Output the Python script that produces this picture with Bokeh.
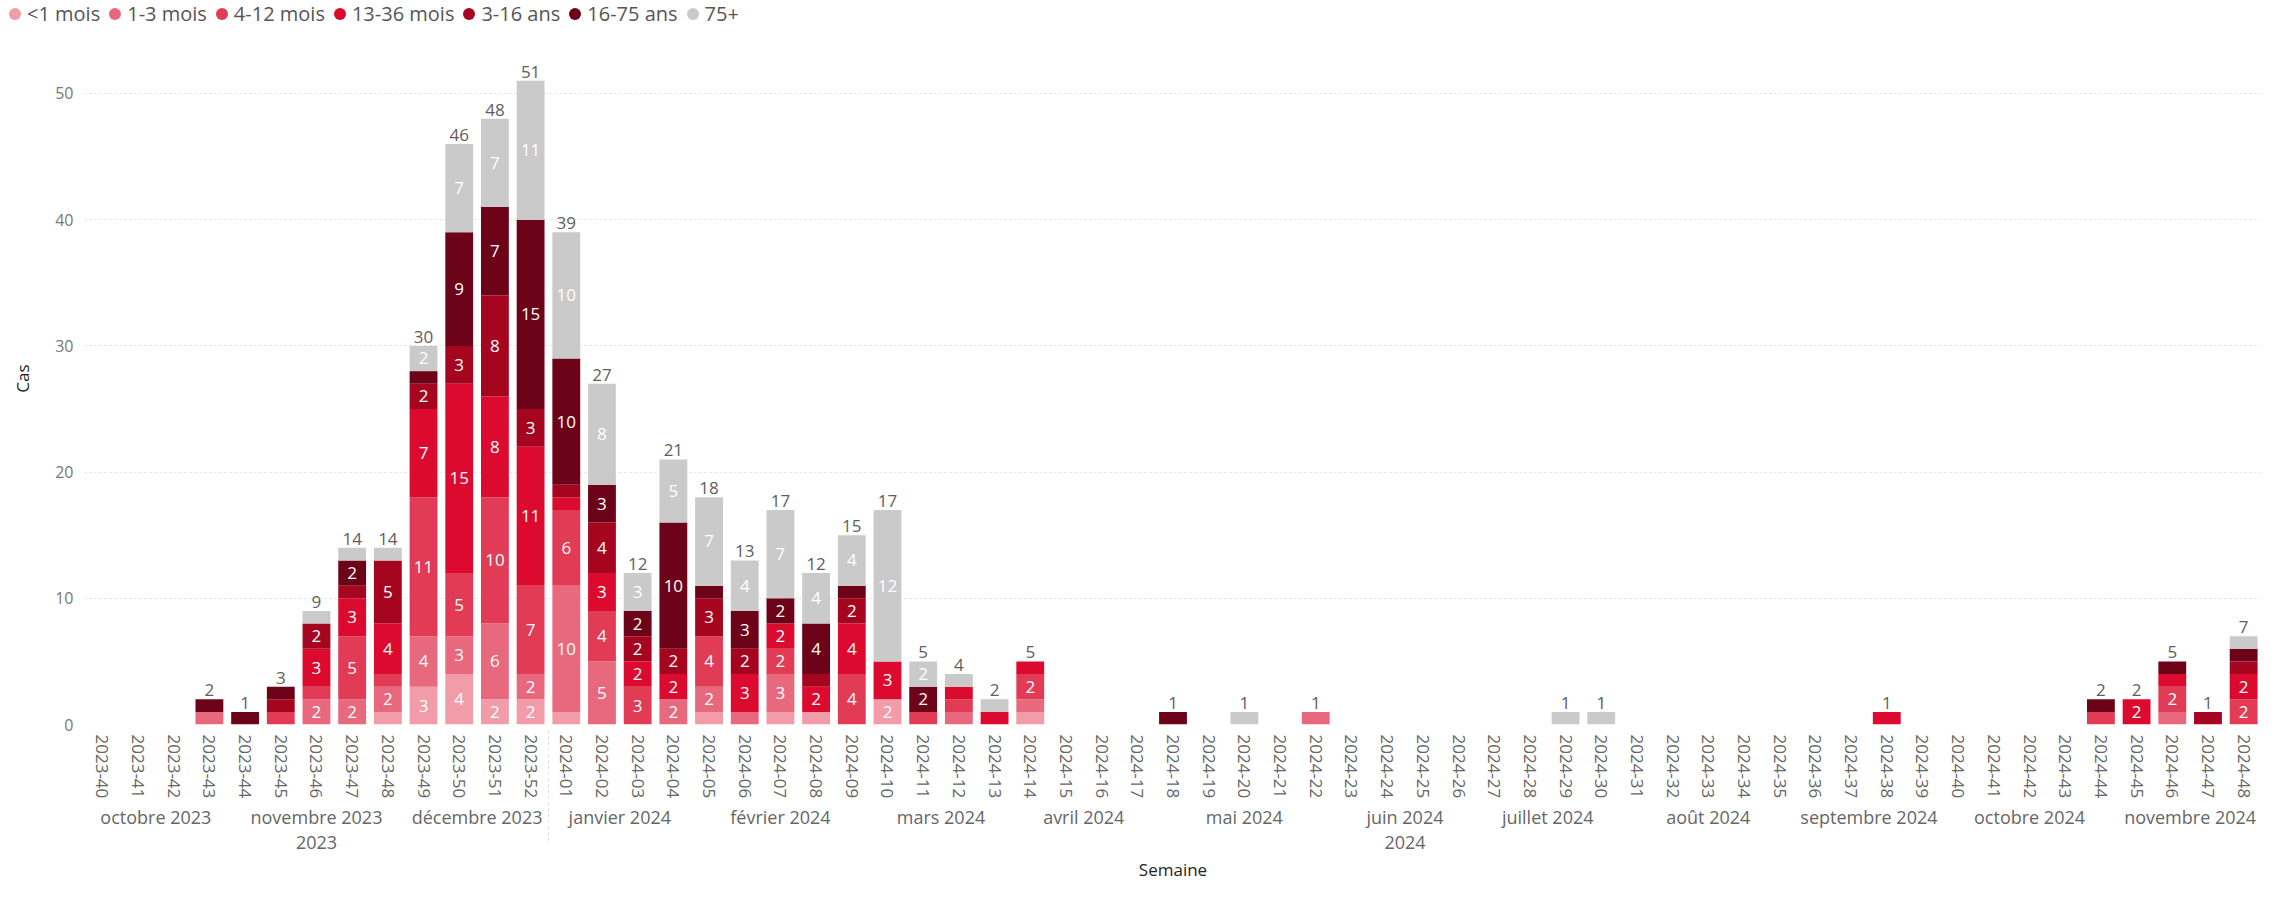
from bokeh.plotting import figure
from bokeh.layouts import column
from bokeh.models import FactorRange, Range1d, ColumnDataSource, FixedTicker, Div
from bokeh.core.properties import value
from bokeh.embed import file_html
from bokeh.resources import INLINE
import html as _html

weeks = [
    "2023-40", "2023-41", "2023-42", "2023-43", "2023-44", "2023-45", "2023-46",
    "2023-47", "2023-48", "2023-49", "2023-50", "2023-51", "2023-52",
    "2024-01", "2024-02", "2024-03", "2024-04", "2024-05", "2024-06", "2024-07",
    "2024-08", "2024-09", "2024-10", "2024-11", "2024-12", "2024-13", "2024-14",
    "2024-15", "2024-16", "2024-17", "2024-18", "2024-19", "2024-20", "2024-21",
    "2024-22", "2024-23", "2024-24", "2024-25", "2024-26", "2024-27", "2024-28",
    "2024-29", "2024-30", "2024-31", "2024-32", "2024-33", "2024-34", "2024-35",
    "2024-36", "2024-37", "2024-38", "2024-39", "2024-40", "2024-41", "2024-42",
    "2024-43", "2024-44", "2024-45", "2024-46", "2024-47", "2024-48",
]
months = ["octobre 2023", "novembre 2023", "décembre 2023", "janvier 2024", "février 2024",
          "mars 2024", "avril 2024", "mai 2024", "juin 2024", "juillet 2024", "août 2024",
          "septembre 2024", "octobre 2024", "novembre 2024"]
weeks_per_month = [4, 5, 4, 4, 5, 4, 4, 5, 4, 4, 5, 4, 5, 4]

names = ["<1 mois", "1-3 mois", "4-12 mois", "13-36 mois", "3-16 ans", "16-75 ans", "75+"]
colors = ["#F19CA8", "#E8697E", "#E23B55", "#DC0A2E", "#A6051F", "#6D0318", "#CACACA"]

# 2023-40..2023-52 | 2024-01..12 | 13..24 | 25..36 | 37..48
lt1 = [0, 0, 0, 0, 0, 0, 0, 0, 1, 3, 4, 2, 2,
       1, 0, 0, 0, 1, 0, 1, 1, 0, 2, 0, 0,
       0, 1, 0, 0, 0, 0, 0, 0, 0, 0, 0, 0,
       0, 0, 0, 0, 0, 0, 0, 0, 0, 0, 0, 0,
       0, 0, 0, 0, 0, 0, 0, 0, 0, 0, 0, 0]
m1_3 = [0, 0, 0, 1, 0, 0, 2, 2, 2, 4, 3, 6, 2,
        10, 5, 0, 2, 2, 1, 3, 0, 0, 0, 0, 1,
        0, 1, 0, 0, 0, 0, 0, 0, 0, 1, 0, 0,
        0, 0, 0, 0, 0, 0, 0, 0, 0, 0, 0, 0,
        0, 0, 0, 0, 0, 0, 0, 0, 0, 1, 0, 0]
m4_12 = [0, 0, 0, 0, 0, 1, 1, 5, 1, 11, 5, 10, 7,
         6, 4, 3, 0, 4, 0, 2, 0, 4, 0, 1, 1,
         0, 2, 0, 0, 0, 0, 0, 0, 0, 0, 0, 0,
         0, 0, 0, 0, 0, 0, 0, 0, 0, 0, 0, 0,
         0, 0, 0, 0, 0, 0, 0, 1, 0, 2, 0, 2]
m13_36 = [0, 0, 0, 0, 0, 0, 3, 3, 4, 7, 15, 8, 11,
          1, 3, 2, 2, 0, 3, 2, 2, 4, 3, 0, 1,
          1, 1, 0, 0, 0, 0, 0, 0, 0, 0, 0, 0,
          0, 0, 0, 0, 0, 0, 0, 0, 0, 0, 0, 0,
          0, 1, 0, 0, 0, 0, 0, 0, 2, 1, 0, 2]
a3_16 = [0, 0, 0, 0, 0, 1, 2, 1, 5, 2, 3, 8, 3,
         1, 4, 2, 2, 3, 2, 0, 1, 2, 0, 0, 0,
         0, 0, 0, 0, 0, 0, 0, 0, 0, 0, 0, 0,
         0, 0, 0, 0, 0, 0, 0, 0, 0, 0, 0, 0,
         0, 0, 0, 0, 0, 0, 0, 0, 0, 0, 1, 1]
a16_75 = [0, 0, 0, 1, 1, 1, 0, 2, 0, 1, 9, 7, 15,
          10, 3, 2, 10, 1, 3, 2, 4, 1, 0, 2, 0,
          0, 0, 0, 0, 0, 1, 0, 0, 0, 0, 0, 0,
          0, 0, 0, 0, 0, 0, 0, 0, 0, 0, 0, 0,
          0, 0, 0, 0, 0, 0, 0, 1, 0, 1, 0, 1]
a75 = [0, 0, 0, 0, 0, 0, 1, 1, 1, 2, 7, 7, 11,
       10, 8, 3, 5, 7, 4, 7, 4, 4, 12, 2, 1,
       1, 0, 0, 0, 0, 0, 0, 1, 0, 0, 0, 0,
       0, 0, 0, 0, 1, 1, 0, 0, 0, 0, 0, 0,
       0, 0, 0, 0, 0, 0, 0, 0, 0, 0, 0, 1]
series = [lt1, m1_3, m4_12, m13_36, a3_16, a16_75, a75]

y_ticks = [0, 10, 20, 30, 40, 50]

FONT = "Open Sans"

# nested factors (year, month, week)
factors = []
wi = 0
for mname, n in zip(months, weeks_per_month):
    year = mname.split()[-1]
    for _ in range(n):
        factors.append((year, mname, weeks[wi]))
        wi += 1

# ---------- legend strip (HTML) ----------
parts = []
for i, (nm, c) in enumerate(zip(names, colors)):
    ml = 9 if i == 0 else 9
    parts.append(
        '<span style="display:inline-block;width:12px;height:12px;border-radius:50%%;'
        'background:%s;margin:0 6px 0 %dpx;"></span><span>%s</span>' % (c, ml, _html.escape(nm)))
legend_html = ('<div style="font-family:\'Open Sans\';font-size:20px;color:#555555;'
               'display:flex;align-items:center;height:28px;white-space:nowrap;">'
               + "".join(parts) + '</div>')
lg = Div(text=legend_html, width=2261, height=28, margin=(0, 0, 0, 0))

# ---------- main chart ----------
x_range = FactorRange(*factors, group_padding=0, subgroup_padding=0, factor_padding=0,
                      range_padding=0)

p = figure(width=2261, height=858, x_range=x_range, y_range=Range1d(0, 54.83),
           output_backend="svg", toolbar_location=None,
           min_border_left=84, min_border_right=0, min_border_top=4, min_border_bottom=162)
p.outline_line_color = None
p.background_fill_color = "white"
p.border_fill_color = "white"

keys = ["s%d" % i for i in range(len(series))]
data = {"x": factors}
for k, s in zip(keys, series):
    data[k] = s
src = ColumnDataSource(data)
p.vbar_stack(keys, x="x", width=0.78, color=colors, line_width=0, source=src)

lx, ly, lt = [], [], []
tx, ty, tt = [], [], []
for i, f in enumerate(factors):
    base = 0
    for s in series:
        v = s[i]
        if v >= 2:
            lx.append(f)
            ly.append(base + v / 2)
            lt.append(str(v))
        base += v
    if base > 0:
        tx.append(f)
        ty.append(base)
        tt.append(str(base))

p.text(x="x", y="y", text="t", source=ColumnDataSource(dict(x=lx, y=ly, t=lt)),
       text_align="center", text_baseline="middle", text_color="white",
       text_font=value(FONT), text_font_size="17px")
p.text(x="x", y="y", text="t", source=ColumnDataSource(dict(x=tx, y=ty, t=tt)),
       text_align="center", text_baseline="bottom", text_color="#605E5C",
       text_font=value(FONT), text_font_size="17px", y_offset=-3)

p.yaxis.ticker = FixedTicker(ticks=y_ticks)
p.yaxis.axis_label = "Cas"
p.yaxis.axis_label_text_font = FONT
p.yaxis.axis_label_text_font_style = "normal"
p.yaxis.axis_label_text_font_size = "17px"
p.yaxis.axis_label_text_color = "#252423"
p.yaxis.axis_label_standoff = 18
p.yaxis.major_label_text_font = FONT
p.yaxis.major_label_text_font_size = "16px"
p.yaxis.major_label_text_color = "#777777"
p.yaxis.axis_line_color = None
p.yaxis.major_tick_line_color = None
p.yaxis.minor_tick_line_color = None

p.xaxis.axis_label = "Semaine"
p.xaxis.axis_label_text_font = FONT
p.xaxis.axis_label_text_font_style = "normal"
p.xaxis.axis_label_text_font_size = "17px"
p.xaxis.axis_label_text_color = "#252423"
p.xaxis.axis_label_standoff = 6
p.xaxis.major_label_orientation = "vertical"
p.xaxis.major_label_standoff = 4
p.xaxis.major_label_text_font = FONT
p.xaxis.major_label_text_font_size = "17px"
p.xaxis.major_label_text_color = "#666666"
p.xaxis.subgroup_text_font = FONT
p.xaxis.subgroup_text_font_size = "18px"
p.xaxis.subgroup_text_color = "#666666"
p.xaxis.subgroup_text_font_style = "normal"
p.xaxis.group_text_font = FONT
p.xaxis.group_text_font_size = "18px"
p.xaxis.group_text_color = "#666666"
p.xaxis.group_text_font_style = "normal"
p.xaxis.separator_line_color = "#CCCCCC"
p.xaxis.separator_line_dash = "dotted"
p.xaxis.separator_line_width = 1
p.xaxis.axis_line_color = None
p.xaxis.major_tick_line_color = None
p.xaxis.minor_tick_line_color = None

p.xgrid.grid_line_color = None
p.ygrid.grid_line_color = "#DDDDDD"
p.ygrid.grid_line_dash = "2 3"
p.ygrid.grid_line_width = 1

layout = column(lg, p, spacing=0)
open("out.html", "w").write(file_html(layout, INLINE))
